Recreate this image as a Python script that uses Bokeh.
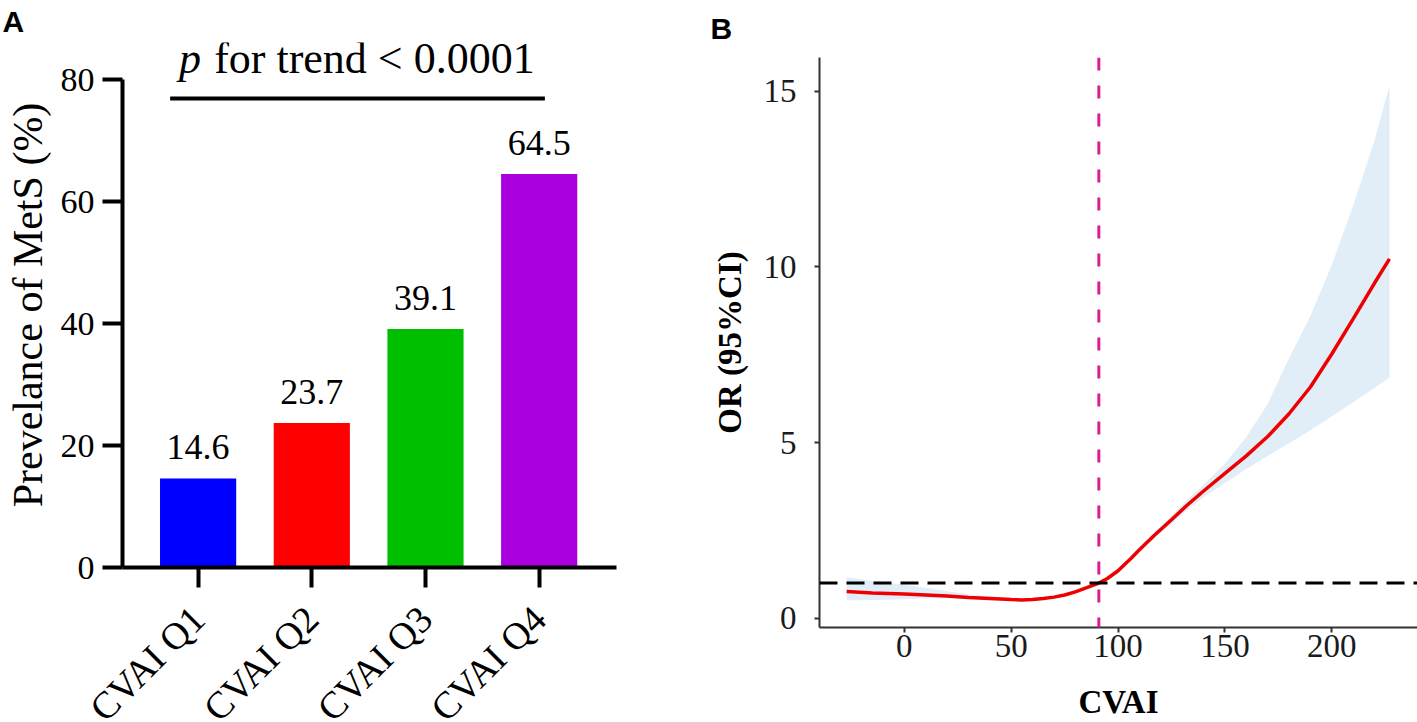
import math
from bokeh.plotting import figure
from bokeh.models import ColumnDataSource, FixedTicker, Span, Range1d
from bokeh.embed import file_html
from bokeh.resources import INLINE
from bokeh.core.properties import value

# ---------------- Panel A data ----------------
quartiles = ["CVAI Q1", "CVAI Q2", "CVAI Q3", "CVAI Q4"]
prevalence = [14.6, 23.7, 39.1, 64.5]
bar_colors = ["#0000ff", "#ff0000", "#00bf00", "#aa00dd"]
a_yticks = [0, 20, 40, 60, 80]
a_ylabel = "Prevelance of MetS (%)"
trend_p = "p"
trend_rest = "for trend < 0.0001"

# ---------------- Panel B data ----------------
cvai = [-27, -15, 0, 10, 20, 30, 40, 50, 55, 60, 65, 70, 75, 80, 85, 91, 95,
        100, 106, 110, 117, 125, 132, 140, 150, 160, 170, 180, 190, 200, 210, 220, 227]
or_est = [0.76, 0.72, 0.69, 0.66, 0.63, 0.59, 0.56, 0.53, 0.52, 0.53, 0.56, 0.60, 0.66,
          0.75, 0.86, 1.00, 1.13, 1.35, 1.70, 1.95, 2.36, 2.80, 3.20, 3.62, 4.12, 4.62,
          5.17, 5.82, 6.58, 7.52, 8.52, 9.54, 10.23]
or_low = [0.50, 0.52, 0.54, 0.56, 0.57, 0.56, 0.53, 0.51, 0.50, 0.51, 0.54, 0.58, 0.64,
          0.73, 0.84, 0.98, 1.10, 1.32, 1.66, 1.91, 2.29, 2.68, 3.06, 3.45, 3.85, 4.25,
          4.62, 4.98, 5.35, 5.75, 6.15, 6.55, 6.86]
or_high = [1.17, 1.06, 0.95, 0.86, 0.77, 0.68, 0.61, 0.56, 0.54, 0.55, 0.58, 0.62, 0.68,
           0.77, 0.88, 1.02, 1.16, 1.38, 1.74, 2.00, 2.43, 2.93, 3.35, 3.80, 4.40, 5.15,
           6.10, 7.40, 8.60, 10.05, 11.75, 13.60, 15.16]
cvai_cutoff = 91
or_reference = 1
b_xticks = [0, 50, 100, 150, 200]
b_yticks = [0, 5, 10, 15]
b_xlabel = "CVAI"
b_ylabel = "OR (95%CI)"

SERIF = "Liberation Serif"
SANS = "Liberation Sans"


def panel_title(p, text, offset, standoff):
    p.title.text = text
    p.title.align = "left"
    p.title.vertical_align = "top"
    p.title.offset = offset
    p.title.standoff = standoff
    p.title.text_font = SANS
    p.title.text_font_style = "bold"
    p.title.text_font_size = "30px"
    p.title.text_color = "black"


# ================= Panel A =================
idx = list(range(len(quartiles)))
srcA = ColumnDataSource(dict(x=idx, top=prevalence, color=bar_colors,
                             label=[f"{v:.1f}" for v in prevalence]))

pA = figure(width=None, height=None, frame_width=494, frame_height=525,
            x_range=Range1d(-0.665, 3.68), y_range=Range1d(0, 86.07),
            output_backend="svg", toolbar_location=None,
            min_border_left=122, min_border_right=92, min_border_top=42, min_border_bottom=0)
pA.grid.visible = False
pA.outline_line_color = None
panel_title(pA, "A", -120, 6)

pA.vbar(x="x", top="top", width=0.67, fill_color="color", line_color=None, source=srcA)
pA.text(x="x", y="top", text="label", source=srcA, text_align="center",
        text_baseline="alphabetic", y_offset=-31, text_font=value(SERIF),
        text_font_size="36px", text_color="black")

# trend bracket and its text
first, last = idx[0], idx[-1]
pA.segment(x0=[first - 0.246], y0=[76.9], x1=[last + 0.05], y1=[76.9],
           line_color="black", line_width=4)
pA.text(x=[first + 0.026], y=[81.0], text=[trend_p], text_align="right",
        text_baseline="alphabetic", y_offset=-15, text_font=value(SERIF),
        text_font_style="italic", text_font_size="44px", text_color="black")
pA.text(x=[first + 0.141], y=[81.0], text=[trend_rest], text_align="left",
        text_baseline="alphabetic", y_offset=-15, text_font=value(SERIF),
        text_font_size="44px", text_color="black")

xa = pA.xaxis[0]
xa.ticker = FixedTicker(ticks=idx)
xa.major_label_overrides = {i: q for i, q in zip(idx, quartiles)}
xa.major_label_orientation = math.pi / 4
xa.axis_line_width = 4
xa.axis_line_color = "black"
xa.major_tick_line_width = 4
xa.major_tick_line_color = "black"
xa.major_tick_out = 20
xa.major_tick_in = 0
xa.minor_tick_line_color = None
xa.major_label_text_font = SERIF
xa.major_label_text_font_size = "38px"
xa.major_label_text_color = "black"
xa.major_label_standoff = 25

ya = pA.yaxis[0]
ya.ticker = FixedTicker(ticks=a_yticks)
ya.bounds = (0, 80)
ya.axis_line_width = 4
ya.axis_line_color = "black"
ya.major_tick_line_width = 4
ya.major_tick_line_color = "black"
ya.major_tick_out = 20
ya.major_tick_in = 0
ya.minor_tick_line_color = None
ya.major_label_text_font = SERIF
ya.major_label_text_font_size = "34px"
ya.major_label_text_color = "black"
ya.major_label_standoff = 8
ya.axis_label = a_ylabel
ya.axis_label_text_font = SERIF
ya.axis_label_text_font_style = "normal"
ya.axis_label_text_font_size = "42px"
ya.axis_label_text_color = "black"
ya.axis_label_standoff = 7

# ================= Panel B =================
pB = figure(width=None, height=None, frame_width=598, frame_height=570,
            x_range=Range1d(-39.7, 240.1), y_range=Range1d(-0.265, 15.96),
            output_backend="svg", toolbar_location=None,
            min_border_left=111, min_border_right=0, min_border_top=57, min_border_bottom=0)
pB.grid.visible = False
pB.outline_line_color = None
panel_title(pB, "B", -109, 21)

pB.varea(x=cvai, y1=or_low, y2=or_high, fill_color="#e1edf7")
pB.line(x=cvai, y=or_est, line_color="#ee0000", line_width=3.5)
pB.add_layout(Span(location=or_reference, dimension="width", line_color="black",
                   line_dash="18 9", line_width=3))
pB.add_layout(Span(location=cvai_cutoff, dimension="height", line_color="#dd1c8f",
                   line_dash="13 15", line_width=3))

for ax in (pB.xaxis[0], pB.yaxis[0]):
    ax.axis_line_width = 2
    ax.axis_line_color = "#333333"
    ax.major_tick_line_width = 2
    ax.major_tick_line_color = "#333333"
    ax.major_tick_out = 5
    ax.major_tick_in = 0
    ax.minor_tick_line_color = None
    ax.major_label_text_font = SERIF
    ax.major_label_text_font_size = "33px"
    ax.major_label_text_color = "#1a1a1a"
    ax.axis_label_text_font = SERIF
    ax.axis_label_text_font_style = "bold"
    ax.axis_label_text_font_size = "33px"
    ax.axis_label_text_color = "black"

xb = pB.xaxis[0]
xb.ticker = FixedTicker(ticks=b_xticks)
xb.major_label_standoff = 2
xb.axis_label = b_xlabel
xb.axis_label_standoff = 24

yb = pB.yaxis[0]
yb.ticker = FixedTicker(ticks=b_yticks)
yb.major_label_standoff = 18
yb.axis_label = b_ylabel
yb.axis_label_standoff = 13

TEMPLATE = """{% block postamble %}<style>
html, body { overflow: hidden; }
body { display: flex; flex-direction: row; align-items: flex-start; }
</style>{% endblock %}"""

open("out.html", "w").write(file_html([pA, pB], INLINE, template=TEMPLATE))
